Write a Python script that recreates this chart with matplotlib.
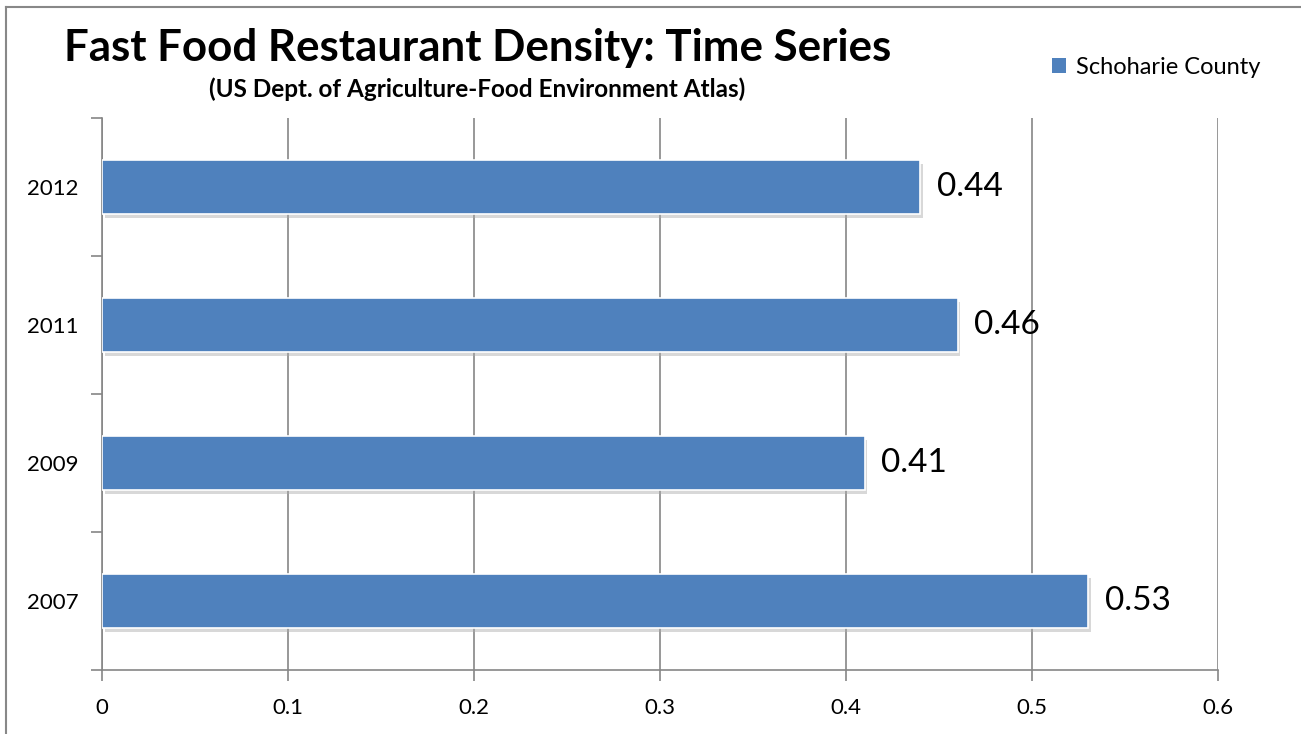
import matplotlib.pyplot as plt
import matplotlib.patheffects as pe
from matplotlib.lines import Line2D
from matplotlib.patches import Patch

years = ["2007", "2009", "2011", "2012"]
density = [0.53, 0.41, 0.46, 0.44]
x_ticks = [0, 0.1, 0.2, 0.3, 0.4, 0.5, 0.6]
x_labels = ["0", "0.1", "0.2", "0.3", "0.4", "0.5", "0.6"]

plt.rcParams['font.family'] = ['Lato', 'DejaVu Sans']
bar_color = "#4F81BD"
grid_color = "#868686"

fig = plt.figure(figsize=(13.01, 7.34), dpi=100)
ax = fig.add_axes([0.0784, 0.0872, 0.8578, 0.752])

pos = list(range(len(years)))
bars = ax.barh(pos, density, height=0.39, color=bar_color, edgecolor="white",
               linewidth=1.2, zorder=3)
for b in bars:
    b.set_path_effects([pe.SimplePatchShadow(offset=(2, -3), shadow_rgbFace="#aaaaaa", alpha=0.45),
                        pe.Normal()])

for p, v in zip(pos, density):
    ax.text(v + 0.009, p, f"{v:.2f}", va="center", ha="left", fontsize=24, color="black")

ax.set_xlim(0, 0.6)
ax.set_ylim(-0.5, len(years) - 0.5)
ax.set_xticks(x_ticks)
ax.set_xticklabels(x_labels, fontsize=16)
ax.set_yticks(pos)
ax.set_yticklabels(years, fontsize=16)
ax.set_yticks([i - 0.5 for i in range(len(years) + 1)], minor=True)
ax.tick_params(axis="y", which="major", length=0, pad=17)
ax.tick_params(axis="y", which="minor", length=8, color=grid_color, width=1.2)
ax.tick_params(axis="x", length=8, color=grid_color, width=1.2, pad=12)

ax.grid(axis="x", color=grid_color, linewidth=1.2, zorder=0)
ax.set_axisbelow(True)
for s in ["top", "right"]:
    ax.spines[s].set_visible(False)
for s in ["left", "bottom"]:
    ax.spines[s].set_color(grid_color)
    ax.spines[s].set_linewidth(1.2)

fig.text(0.367, 0.935, "Fast Food Restaurant Density: Time Series", ha="center", va="center",
         fontsize=31.6, fontweight="bold")
fig.text(0.367, 0.879, "(US Dept. of Agriculture-Food Environment Atlas)", ha="center", va="center",
         fontsize=17.5, fontweight="bold")

handles = [Patch(facecolor=bar_color, edgecolor="none")]
fig.legend(handles, ["Schoharie County"], loc="center left", bbox_to_anchor=(0.792, 0.908),
           frameon=False, fontsize=17, handlelength=0.6, handleheight=0.6, handletextpad=0.45)

# outer chart border
fig.add_artist(Line2D([0.0046, 0.0046], [0, 0.99], transform=fig.transFigure, color="#888888", lw=1.5))
fig.add_artist(Line2D([0.0046, 1.0], [0.99, 0.99], transform=fig.transFigure, color="#888888", lw=1.5))

fig.savefig("out.png", dpi=100)
